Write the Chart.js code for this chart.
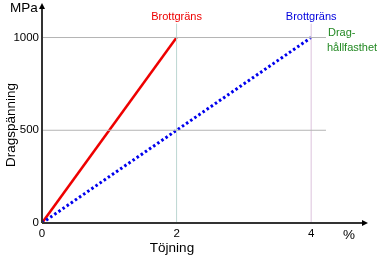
<!DOCTYPE html>
<html>
<head>
<meta charset="utf-8">
<script src="https://cdn.jsdelivr.net/npm/chart.js@4"></script>
<style>
html, body { margin: 0; padding: 0; background: #fff; }
#wrap { width: 378px; height: 257px; }
</style>
</head>
<body>
<div id="wrap"><canvas id="myChart"></canvas></div>
<script>
/* Data */
var strainRed = [0, 2];
var stressRed = [0, 1000];
var strainBlue = [0, 4];
var stressBlue = [0, 1000];
var xTicks = [0, 2, 4];
var yTicks = [0, 500, 1000];
/* reference lines */
var hGridY = [500, 1000];
var hGridX = [0, 4.22];
var vGridX = [2, 4];
var vGridY = [0, 1075];
var vGridColors = ['#bcd6d2', '#dcc2dc'];

function pts(xs, ys) {
    var out = [];
    for (let i = 0; i < xs.length; i++) {
        out.push({ x: xs[i], y: ys[i] });
    }
    return out;
}

var datasets = [];
hGridY.forEach(function(v) {
    datasets.push({
        data: pts(hGridX, [v, v]),
        borderColor: '#b4b4b4',
        borderWidth: 1,
        pointRadius: 0
    });
});
vGridX.forEach(function(v, i) {
    datasets.push({
        data: pts([v, v], vGridY),
        borderColor: vGridColors[i],
        borderWidth: 1,
        pointRadius: 0
    });
});
datasets.push({
    data: pts(strainBlue, stressBlue),
    borderColor: '#0000ee',
    borderWidth: 3,
    borderDash: [2.5, 2.5],
    pointRadius: 0
});
datasets.push({
    data: pts(strainRed, stressRed),
    borderColor: '#ee0000',
    borderWidth: 2.5,
    pointRadius: 0
});

var fontFam = '"Liberation Sans", Arial, sans-serif';

/* arrows and texts */
var decorPlugin = {
    id: 'decor',
    afterDraw: function(chart) {
        var ctx = chart.ctx;
        var xs = chart.scales.x, ys = chart.scales.y;
        var a = chart.chartArea;
        var x0 = xs.getPixelForValue(0), y0 = ys.getPixelForValue(0);
        ctx.save();
        ctx.strokeStyle = '#333';
        ctx.lineWidth = 2;
        ctx.beginPath();
        ctx.moveTo(x0, y0);
        ctx.lineTo(a.right, y0);
        ctx.moveTo(x0, y0);
        ctx.lineTo(x0, a.top + 2);
        ctx.stroke();
        ctx.fillStyle = '#000';
        ctx.beginPath();
        ctx.moveTo(a.right + 3, y0);
        ctx.lineTo(a.right - 3, y0 - 3);
        ctx.lineTo(a.right - 3, y0 + 3);
        ctx.fill();
        ctx.beginPath();
        ctx.moveTo(x0, a.top - 3);
        ctx.lineTo(x0 - 3, a.top + 3);
        ctx.lineTo(x0 + 3, a.top + 3);
        ctx.fill();

        ctx.font = '11px ' + fontFam;
        ctx.textBaseline = 'middle';
        ctx.textAlign = 'center';
        ctx.fillStyle = '#ee0000';
        ctx.fillText('Brottgräns', xs.getPixelForValue(2), 17);
        ctx.fillStyle = '#0000dd';
        ctx.fillText('Brottgräns', xs.getPixelForValue(4), 17);
        ctx.fillStyle = '#228822';
        ctx.textAlign = 'left';
        ctx.fillText('Drag-', 328, 33);
        ctx.fillText('hållfasthet', 327, 48);

        ctx.fillStyle = '#000';
        ctx.font = '13.5px ' + fontFam;
        ctx.textAlign = 'left';
        ctx.fillText('MPa', 10, 8);
        ctx.fillText('%', 343, 235);
        ctx.textAlign = 'center';
        ctx.fillText('Töjning', 172, 248);
        ctx.translate(11, 125);
        ctx.rotate(-Math.PI / 2);
        ctx.fillText('Dragspänning', 0, 0);
        ctx.restore();
    }
};

var myChart = new Chart(document.getElementById('myChart'), {
    type: 'line',
    data: { datasets: datasets },
    options: {
        responsive: true,
        maintainAspectRatio: false,
        animation: false,
        layout: { padding: { top: 6, right: 13, left: 0, bottom: 0 } },
        plugins: { legend: { display: false }, tooltip: { enabled: false } },
        scales: {
            x: {
                type: 'linear',
                min: 0,
                max: 4.8,
                grid: { display: false, drawTicks: false },
                border: { display: false },
                afterBuildTicks: function(s) { s.ticks = xTicks.map(function(v) { return { value: v }; }); },
                ticks: {
                    padding: 4,
                    color: '#000',
                    font: { size: 11.5, family: fontFam },
                    callback: function(v) { return String(v); }
                },
                afterFit: function(s) { s.height = 34; s.paddingLeft = 0; s.paddingRight = 0; }
            },
            y: {
                min: 0,
                max: 1170,
                grid: { display: false, drawTicks: false },
                border: { display: false },
                afterBuildTicks: function(s) { s.ticks = yTicks.map(function(v) { return { value: v }; }); },
                ticks: {
                    padding: 3,
                    color: '#000',
                    font: { size: 11.5, family: fontFam },
                    callback: function(v) { return String(v); }
                },
                afterFit: function(s) { s.width = 42; s.paddingTop = 0; s.paddingBottom = 0; }
            }
        }
    },
    plugins: [decorPlugin]
});
</script>
</body>
</html>
